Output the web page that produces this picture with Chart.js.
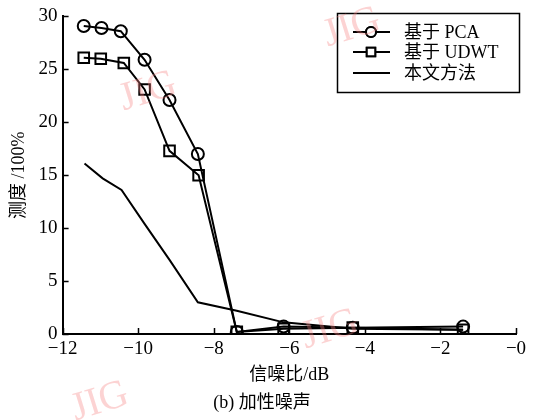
<!DOCTYPE html>
<html>
<head>
<meta charset="utf-8">
<script src="https://cdn.jsdelivr.net/npm/chart.js@4"></script>
<style>
  html, body { margin: 0; padding: 0; background: #fff; }
  #wrap { width: 547px; height: 420px; }
</style>
</head>
<body>
<div id="wrap"><canvas id="chart" width="547" height="420"></canvas></div>
<script>
// --- DATA ---
const snrPCA = [-11.44, -10.97, -10.46, -9.83, -9.17, -8.42, -7.39, -6.15, -4.32, -1.40];
const valPCA = [29.1, 28.9, 28.6, 25.9, 22.1, 17.0, 0.2, 0.7, 0.6, 0.7];

const snrUDWT = [-11.44, -10.99, -10.38, -9.83, -9.17, -8.40, -7.39, -6.15, -4.32, -1.40];
const valUDWT = [26.1, 26.0, 25.6, 23.1, 17.3, 15.0, 0.2, 0.5, 0.6, 0.4];

const snrOurs = [-11.42, -10.94, -10.44, -9.83, -9.17, -8.42, -7.39, -6.15, -4.32, -1.40];
const valOurs = [16.1, 14.7, 13.6, 10.4, 7.0, 3.0, 2.2, 1.1, 0.5, 0.4];

const seriesLabels = ['基于 PCA', '基于 UDWT', '本文方法'];
const xTicks = [-12, -10, -8, -6, -4, -2, 0];
const yTicks = [0, 5, 10, 15, 20, 25, 30];

const serif = "'Liberation Serif', 'Noto Sans CJK SC', serif";

function toPoints(xs, ys) {
    return xs.map((x, i) => ({ x: x, y: ys[i] }));
}

// inward ticks on left and bottom axes
const inwardTicks = {
    id: 'inwardTicks',
    afterDatasetsDraw(chart) {
        const ctx = chart.ctx;
        const xs = chart.scales.x, ys = chart.scales.y;
        const area = chart.chartArea;
        ctx.save();
        ctx.strokeStyle = '#000';
        ctx.lineWidth = 1.5;
        ctx.beginPath();
        xTicks.forEach(v => {
            const px = Math.round(xs.getPixelForValue(v)) + 0.5;
            ctx.moveTo(px, area.bottom);
            ctx.lineTo(px, area.bottom - 6);
        });
        yTicks.forEach(v => {
            const py = Math.round(ys.getPixelForValue(v)) + 0.5;
            ctx.moveTo(area.left, py);
            ctx.lineTo(area.left + 6, py);
        });
        ctx.stroke();
        ctx.restore();
    }
};

// legend box drawn inside the plot, upper right
const boxLegend = {
    id: 'boxLegend',
    afterDraw(chart) {
        const ctx = chart.ctx;
        ctx.save();
        ctx.strokeStyle = '#000';
        ctx.lineWidth = 1.5;
        ctx.strokeRect(337.5, 13.5, 182, 79);
        ctx.font = '18px ' + serif;
        ctx.textBaseline = 'middle';
        ctx.fillStyle = '#000';
        const rows = [32, 52, 73];
        chart.data.datasets.forEach((ds, i) => {
            const y = rows[i];
            ctx.lineWidth = 2;
            ctx.beginPath();
            ctx.moveTo(353, y);
            ctx.lineTo(390, y);
            ctx.stroke();
            if (ds.pointStyle && ds.pointRadius > 0) {
                Chart.helpers.drawPoint(ctx, {
                    pointStyle: ds.pointStyle,
                    radius: ds.pointStyle === 'rect' ? 6 : 5,
                    borderWidth: 2
                }, 371, y);
                ctx.fillStyle = '#fff';
                ctx.fill();
                ctx.stroke();
                ctx.fillStyle = '#000';
            }
            ctx.fillText(ds.label, 404, y + 1);
        });
        ctx.restore();
    }
};

// faint JIG watermarks
const watermark = {
    id: 'watermark',
    afterDraw(chart) {
        const ctx = chart.ctx;
        const marks = [[148, 92], [352, 28], [330, 330], [100, 402]];
        ctx.save();
        ctx.fillStyle = 'rgba(245, 130, 130, 0.35)';
        ctx.font = '40px ' + serif;
        ctx.textAlign = 'center';
        ctx.textBaseline = 'middle';
        marks.forEach(m => {
            ctx.save();
            ctx.translate(m[0], m[1]);
            ctx.rotate(-0.3);
            ctx.fillText('JIG', 0, 0);
            ctx.restore();
        });
        ctx.restore();
    }
};

const ctx = document.getElementById('chart').getContext('2d');
new Chart(ctx, {
    type: 'line',
    data: {
        datasets: [
            {
                label: seriesLabels[0],
                data: toPoints(snrPCA, valPCA),
                borderColor: '#000',
                backgroundColor: '#fff',
                borderWidth: 2,
                pointStyle: 'circle',
                pointRadius: 6,
                pointBorderWidth: 2,
                pointBackgroundColor: 'rgba(255,255,255,0)',
                tension: 0
            },
            {
                label: seriesLabels[1],
                data: toPoints(snrUDWT, valUDWT),
                borderColor: '#000',
                backgroundColor: '#fff',
                borderWidth: 2,
                pointStyle: 'rect',
                pointRadius: 7.5,
                pointBorderWidth: 2,
                pointBackgroundColor: 'rgba(255,255,255,0)',
                tension: 0
            },
            {
                label: seriesLabels[2],
                data: toPoints(snrOurs, valOurs),
                borderColor: '#000',
                borderWidth: 2,
                pointStyle: false,
                pointRadius: 0,
                tension: 0
            }
        ]
    },
    options: {
        responsive: false,
        animation: false,
        layout: { padding: { left: 8, right: 31, top: 8, bottom: 6 } },
        plugins: {
            legend: { display: false },
            tooltip: { enabled: false },
            title: {
                display: true,
                position: 'bottom',
                text: '(b) 加性噪声',
                color: '#000',
                font: { family: serif, size: 18, weight: 'normal' },
                padding: { top: 6, bottom: 0 }
            }
        },
        scales: {
            x: {
                type: 'linear',
                min: -12,
                max: 0,
                afterBuildTicks: s => { s.ticks = xTicks.map(v => ({ value: v })); },
                grid: { display: true, drawOnChartArea: false, drawTicks: false },
                border: { display: true, color: '#000', width: 2 },
                ticks: {
                    color: '#000',
                    padding: 4,
                    maxRotation: 0,
                    font: { family: serif, size: 19 },
                    callback: v => '\u2212' + Math.abs(v)
                },
                title: {
                    display: true,
                    text: '信噪比/dB',
                    color: '#000',
                    font: { family: serif, size: 18 },
                    padding: { top: 0, bottom: 0 }
                }
            },
            y: {
                min: 0,
                max: 30,
                afterBuildTicks: s => { s.ticks = yTicks.map(v => ({ value: v })); },
                grid: { display: true, drawOnChartArea: false, drawTicks: false },
                border: { display: true, color: '#000', width: 2 },
                ticks: {
                    color: '#000',
                    padding: 5,
                    font: { family: serif, size: 19 }
                },
                title: {
                    display: true,
                    text: '测度 /100%',
                    color: '#000',
                    font: { family: serif, size: 18 },
                    padding: { top: 0, bottom: 4 }
                }
            }
        }
    },
    plugins: [inwardTicks, boxLegend, watermark]
});
</script>
</body>
</html>
